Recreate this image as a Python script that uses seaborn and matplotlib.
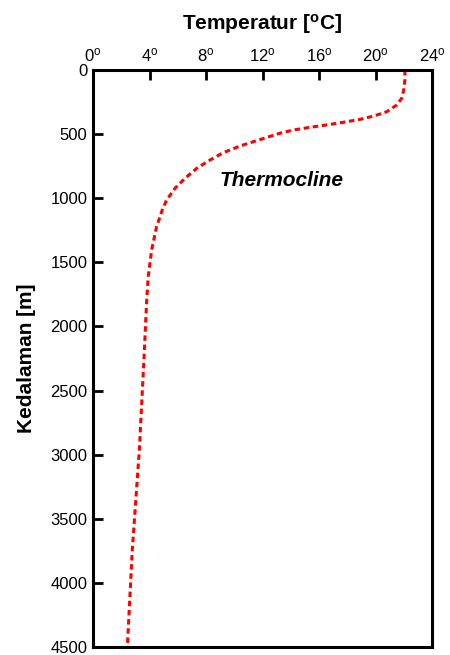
import numpy as np
import pandas as pd
import matplotlib
matplotlib.use("Agg")
import matplotlib.pyplot as plt
import seaborn as sns

# temperature profile (deg C vs depth in m)
depth = [0, 78, 156, 221, 273, 325, 356, 385, 408, 429, 447, 468, 494, 551,
         593, 645, 702, 767, 845, 923, 1014, 1092, 1222, 1404, 1612, 1794,
         2158, 2964, 3744, 4500]
temp = [22.08, 22.08, 22.0, 21.85, 21.5, 20.8, 19.96, 18.9, 17.7, 16.5,
        15.36, 14.18, 13.2, 11.58, 10.4, 9.22, 8.28, 7.34, 6.51, 5.8, 5.21,
        4.9, 4.5, 4.15, 3.91, 3.8, 3.65, 3.28, 2.78, 2.43]

x_ticks = [0, 4, 8, 12, 16, 20, 24]
y_ticks = [0, 500, 1000, 1500, 2000, 2500, 3000, 3500, 4000, 4500]

sns.set_theme(style="white")
plt.rcParams['font.family'] = ['Liberation Sans', 'DejaVu Sans']
plt.rcParams['mathtext.default'] = 'regular'
for k in ['text.color', 'axes.labelcolor', 'xtick.color', 'ytick.color']:
    plt.rcParams[k] = 'black'

df = pd.DataFrame({"Temperatur": temp, "Kedalaman": depth})

fig = plt.figure(figsize=(4.5, 6.55), dpi=100)
ax = fig.add_axes([0.2067, 0.0122, 0.7533, 0.8809])

sns.lineplot(data=df, x="Temperatur", y="Kedalaman", sort=False, estimator=None,
             color="red", linewidth=2.2, linestyle=(0, (1.8, 1.2)), ax=ax)

ax.set_xlim(0, 24)
ax.set_ylim(4500, 0)
ax.xaxis.tick_top()
ax.xaxis.set_label_position("top")
ax.set_xticks(x_ticks)
ax.set_xticklabels([f"${t}^o$" for t in x_ticks], fontsize=12)
ax.set_yticks(y_ticks)
ax.set_yticklabels([str(v) for v in y_ticks], fontsize=12)
ax.tick_params(axis="both", direction="in", length=7, width=2, color="black",
               pad=4, top=True, bottom=False, left=True)

ax.set_xlabel("Temperatur [$^o$C]", fontsize=15, fontweight="bold", labelpad=12)
ax.set_ylabel("Kedalaman [m]", fontsize=15, fontweight="bold", labelpad=10)

for s in ax.spines.values():
    s.set_visible(True)
    s.set_color("black")
    s.set_linewidth(2.2)

ax.text(13.35, 863, "Thermocline", fontsize=15, fontweight="bold",
        fontstyle="italic", ha="center", va="center")

fig.savefig("out.png", dpi=100)
